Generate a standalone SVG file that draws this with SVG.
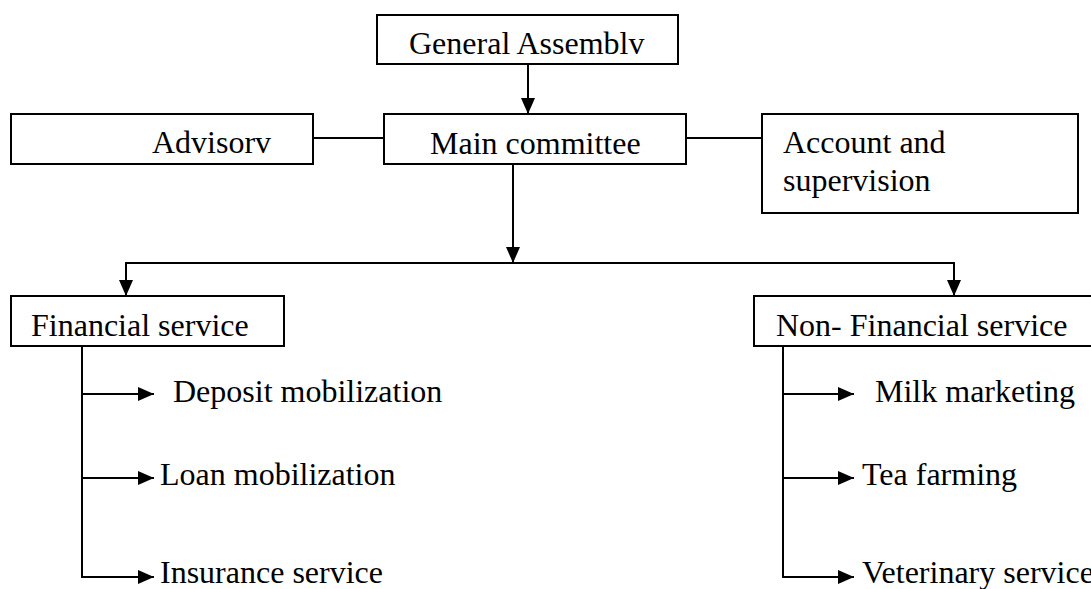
<svg xmlns="http://www.w3.org/2000/svg" width="1091" height="589" viewBox="0 0 1091 589">
  <style>
    .box { fill: #ffffff; stroke: #000000; stroke-width: 2; }
    .lbl { font-family: "Liberation Serif", "Times New Roman", serif; font-size: 32px; fill: #000000; }
    .wire { fill: none; stroke: #000000; stroke-width: 2; }
    .arrow { fill: none; stroke: #000000; stroke-width: 2; marker-end: url(#head); }
  </style>
  <defs>
    <marker id="head" markerUnits="userSpaceOnUse" markerWidth="16" markerHeight="14" refX="16" refY="7" orient="auto">
      <path d="M0,0 L16,7 L0,14 Z" fill="#000000"/>
    </marker>
  </defs>
  <rect width="1091" height="589" fill="#ffffff"/>

  <g id="connectors">
    <!-- General Assembly to Main committee -->
    <line class="arrow" x1="528" y1="64" x2="528" y2="114"/>
    <!-- side links -->
    <line class="wire" x1="313" y1="138" x2="384" y2="138"/>
    <line class="wire" x1="686" y1="138" x2="762" y2="138"/>
    <!-- Main committee down to the service split -->
    <line class="arrow" x1="513" y1="164" x2="513" y2="263"/>
    <path class="arrow" d="M513,263 H126 V296"/>
    <path class="arrow" d="M513,263 H954 V296"/>
    <!-- financial service branches -->
    <line class="wire" x1="82" y1="346" x2="82" y2="577"/>
    <line class="arrow" x1="82" y1="394" x2="154" y2="394"/>
    <line class="arrow" x1="82" y1="478" x2="154" y2="478"/>
    <line class="arrow" x1="81" y1="577" x2="154" y2="577"/>
    <!-- non-financial service branches -->
    <line class="wire" x1="783" y1="346" x2="783" y2="577"/>
    <line class="arrow" x1="783" y1="394" x2="854" y2="394"/>
    <line class="arrow" x1="783" y1="478" x2="854" y2="478"/>
    <line class="arrow" x1="782" y1="577" x2="854" y2="577"/>
  </g>

  <g id="general-assembly">
    <rect class="box" x="377" y="15" width="301" height="49"/>
    <text class="lbl" x="409" y="54">General Assemblv</text>
  </g>

  <g id="main-committee">
    <rect class="box" x="384" y="114" width="302" height="50"/>
    <text class="lbl" x="430" y="154">Main committee</text>
  </g>

  <g id="advisory">
    <rect class="box" x="11" y="114" width="302" height="50"/>
    <text class="lbl" x="152" y="153">Advisorv</text>
  </g>

  <g id="account-supervision">
    <rect class="box" x="762" y="114" width="316" height="99"/>
    <text class="lbl" x="783" y="153">Account and</text>
    <text class="lbl" x="783" y="191">supervision</text>
  </g>

  <g id="financial-service">
    <rect class="box" x="11" y="296" width="273" height="50"/>
    <text class="lbl" x="31" y="336">Financial service</text>
  </g>

  <g id="non-financial-service">
    <rect class="box" x="754" y="296" width="345" height="50"/>
    <text class="lbl" x="776" y="336">Non- Financial service</text>
  </g>

  <g id="deposit-mobilization">
    <text class="lbl" x="173" y="402">Deposit mobilization</text>
  </g>
  <g id="loan-mobilization">
    <text class="lbl" x="160" y="485">Loan mobilization</text>
  </g>
  <g id="insurance-service">
    <text class="lbl" x="160" y="583">Insurance service</text>
  </g>

  <g id="milk-marketing">
    <text class="lbl" x="875" y="402">Milk marketing</text>
  </g>
  <g id="tea-farming">
    <text class="lbl" x="862" y="485">Tea farming</text>
  </g>
  <g id="veterinary-service">
    <text class="lbl" x="862" y="583">Veterinary service</text>
  </g>
</svg>
